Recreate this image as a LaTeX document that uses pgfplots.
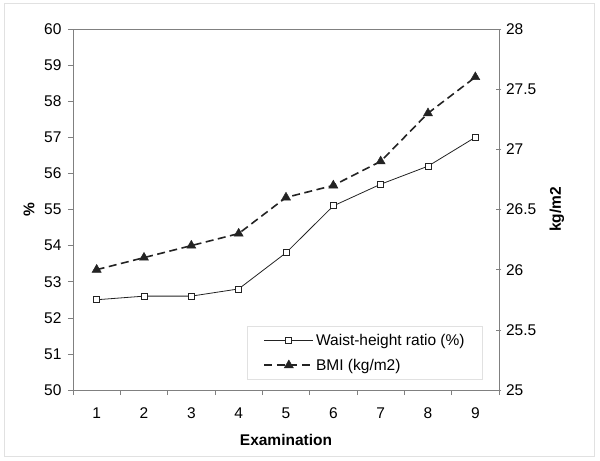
\documentclass[border=0pt]{standalone}
\usepackage{fontspec}
\setmainfont{Liberation Sans}
\usepackage{pgfplots}
\pgfplotsset{compat=1.18}
\definecolor{axgray}{RGB}{128,128,128}
\definecolor{ser}{RGB}{35,35,35}
\definecolor{framegray}{RGB}{225,225,225}
\begin{document}
\begin{tikzpicture}[font=\fontsize{15.5bp}{18bp}\selectfont]
\useasboundingbox (-73bp,-71bp) rectangle (527bp,390bp);
\draw[framegray, line width=1bp] (-68bp,-66bp) rectangle (521bp,386bp);
\pgfplotsset{
  common/.style={
    scale only axis, width=426bp, height=361bp, at={(0,0)}, anchor=south west,
    xmin=0.5, xmax=9.5,
    /pgf/number format/assume math mode=true,
    axis line style={axgray},
    every tick/.style={axgray, line width=0.6bp},
    major tick length=5bp, minor tick length=5bp,
    legend image code/.code={\draw[mark repeat=2,mark phase=2] plot coordinates {(0bp,0bp)(24.5bp,0bp)(49bp,0bp)};},
  },
  waist/.style={ser, line width=0.8bp, mark=square*, mark size=3bp, mark options={solid, fill=white, draw=ser, line width=0.8bp}},
  bmi/.style={ser, line width=1.6bp, dash pattern=on 8bp off 4.5bp, mark=triangle*, mark size=5.2bp, mark options={solid, fill=ser, draw=ser, line width=0.5bp}},
}
\begin{axis}[common,
  ymin=50, ymax=60, ytick={50,51,...,60},
  ytick pos=left, xtick pos=bottom, tick align=outside,
  xtick={1,...,9}, minor xtick={0.5,1.5,...,9.5},
  major x tick style={draw=none},
  xticklabel style={yshift=-9bp},
  yticklabel style={xshift=-3bp},
  xlabel={\bfseries Examination},
  xlabel style={at={(axis description cs:0.5,-0.1385)}, anchor=center},
  ylabel={\bfseries \%},
  ylabel style={at={(axis description cs:-0.1033,0.5)}, anchor=center, rotate=0},
]
\addplot[waist] coordinates {(1,52.5) (2,52.6) (3,52.6) (4,52.8) (5,53.8) (6,55.1) (7,55.7) (8,56.2) (9,57.0)};
\end{axis}
\begin{axis}[common,
  ymin=25, ymax=28, ytick={25,25.5,26,26.5,27,27.5,28},
  axis y line*=right, axis x line=none, tick align=center,
  yticklabel style={xshift=1bp},
  ylabel={\bfseries kg/m2},
  ylabel style={at={(axis description cs:1.136,0.5)}, anchor=center},
  legend style={at={(axis description cs:0.9624,0.0277)}, anchor=south east,
    draw=framegray, line width=0.8bp, inner xsep=16bp, inner ysep=6bp,
    row sep=8bp, font=\fontsize{15.5bp}{18bp}\selectfont,
    legend cell align=left},
]
\addlegendimage{waist}
\addlegendentry{Waist-height ratio (\%)}
\addplot[bmi] coordinates {(1,26.0) (2,26.1) (3,26.2) (4,26.3) (5,26.6) (6,26.7) (7,26.9) (8,27.3) (9,27.6)};
\addlegendentry{BMI (kg/m2)}
\end{axis}
\end{tikzpicture}
\end{document}
